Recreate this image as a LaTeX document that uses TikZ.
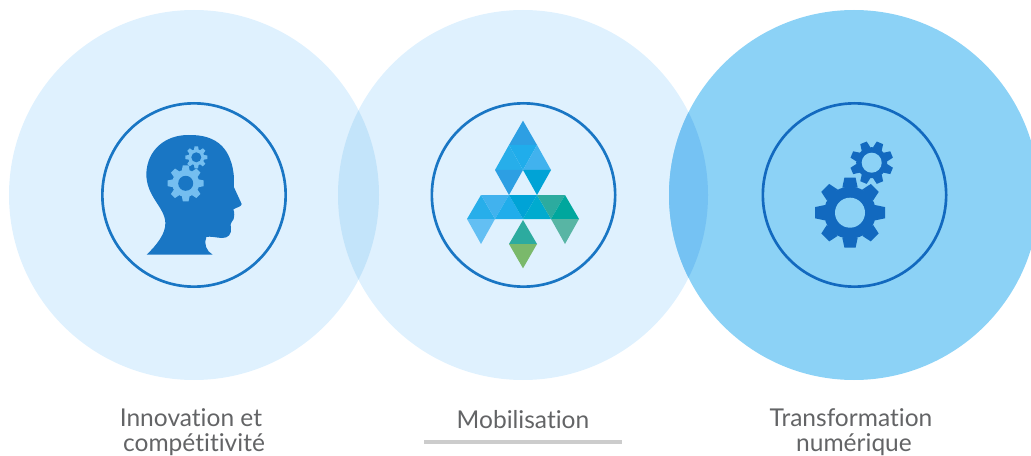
\documentclass[tikz,border=0pt]{standalone}
\usepackage{fontspec}
\setmainfont[Ligatures=NoCommon,Contextuals=NoAlternate]{Lato}
\definecolor{paleblue}{HTML}{DFF1FE}
\definecolor{lensblue}{HTML}{C3E4FA}
\definecolor{skyblue}{HTML}{8CD2F6}
\definecolor{lensdeep}{HTML}{75C2F3}
\definecolor{headblue}{HTML}{1976C4}
\definecolor{cogblue}{HTML}{74BEF0}
\definecolor{gearblue}{HTML}{1269BF}
\definecolor{labelgrey}{HTML}{636466}
\definecolor{rulegrey}{HTML}{CCCCCC}
\definecolor{triA}{HTML}{2D9FE3}
\definecolor{triB}{HTML}{20ADEB}
\definecolor{triC}{HTML}{27AEEA}
\definecolor{triD}{HTML}{41B2EE}
\definecolor{triE}{HTML}{00A3D6}
\definecolor{triF}{HTML}{00ABCF}
\definecolor{triG}{HTML}{2CAB9F}
\definecolor{triH}{HTML}{00A79D}
\definecolor{triI}{HTML}{63BFF3}
\definecolor{triJ}{HTML}{58B5A4}
\definecolor{triK}{HTML}{7AB96B}
% x, y, outer radius, body radius, hole radius, rotation, colour, hole colour
\newcommand{\gearcog}[8]{
\begin{scope}[shift={(#1,#2)},rotate=#6]
\fill[#7] (0,0) circle[radius=#4*.75pt];
\foreach \a in {0,45,...,315} {
\fill[#7,rotate=\a] (#4-1,-#3*.22) -- (#3,-#3*.16) -- (#3,#3*.16) -- (#4-1,#3*.22) -- cycle;
}
\fill[#8] (0,0) circle[radius=#5*.75pt];
\end{scope}
}
\begin{document}
\begin{tikzpicture}[x=.75pt,y=-.75pt,main circle/.style={circle,minimum size=277.5pt,inner sep=0pt,outer sep=0pt},ring node/.style={circle,draw,line width=2pt,minimum size=137.5pt,inner sep=0pt},label node/.style={text=labelgrey,font=\fontsize{18.4}{18.8}\selectfont,align=center,inner sep=0pt}]
\useasboundingbox (0,0) rectangle (1031,456);
\begin{scope}
\clip (0,0) rectangle (1031,456);
\node[main circle,fill=paleblue] (c1) at (194,195) {};
\node[main circle,fill=paleblue] (c2) at (523,195) {};
\begin{scope}
\clip (194,195) circle[radius=138.75pt];
\fill[lensblue] (523,195) circle[radius=138.75pt];
\end{scope}
\node[main circle,fill=skyblue] (c3) at (854,195) {};
\begin{scope}
\clip (523,195) circle[radius=138.75pt];
\fill[lensdeep] (854,195) circle[radius=138.75pt];
\end{scope}
\end{scope}
\node[ring node,draw=headblue] (r1) at (194,195) {};
\node[ring node,draw=headblue] (r2) at (523.5,195) {};
\node[ring node,draw=gearblue] (r3) at (854.5,195) {};
% head
\begin{scope}[shift={(90,90)},x=.25pt,y=-.25pt]
\fill[headblue] (170,494) .. controls (200,465) and (228,430) .. (226,398)
 .. controls (224,350) and (168,320) .. (169,250)
 .. controls (172,180) and (225,135) .. (295,135)
 .. controls (385,133) and (425,180) .. (432,262)
 .. controls (432,280) and (430,285) .. (432,292)
 -- (455,342) .. controls (455,350) and (440,352) .. (430,358)
 .. controls (435,370) and (432,380) .. (431,387)
 .. controls (428,395) and (418,400) .. (423,412)
 .. controls (426,432) and (415,445) .. (395,444)
 .. controls (380,443) and (360,438) .. (349,441)
 .. controls (340,460) and (350,485) .. (368,494) -- cycle;
\end{scope}
\gearcog{185.7}{183.3}{18}{13.5}{7.5}{0}{cogblue}{headblue}
\gearcog{196.3}{157.3}{11}{8}{5}{0}{cogblue}{headblue}
% triangles
\begin{scope}[shift={(450,110)},x=.25pt,y=-.25pt]
\fill[triA] (219,32) -- (177,105) -- (261,105) -- cycle;
\fill[triB] (177,105) -- (261,105) -- (219,180) -- cycle;
\fill[triC] (177,105) -- (135,180) -- (219,180) -- cycle;
\fill[triD] (261,105) -- (219,180) -- (303,180) -- cycle;
\fill[triA] (135,180) -- (219,180) -- (177,255) -- cycle;
\fill[triE] (219,180) -- (303,180) -- (261,255) -- cycle;
\fill[triC] (93,255) -- (51,327) -- (135,327) -- cycle;
\fill[triD] (93,255) -- (177,255) -- (135,327) -- cycle;
\fill[triB] (177,255) -- (135,327) -- (219,327) -- cycle;
\fill[triE] (177,255) -- (261,255) -- (219,327) -- cycle;
\fill[triF] (261,255) -- (219,327) -- (303,327) -- cycle;
\fill[triG] (261,255) -- (345,255) -- (303,327) -- cycle;
\fill[triH] (345,255) -- (303,327) -- (387,327) -- cycle;
\fill[triI] (51,327) -- (135,327) -- (93,402) -- cycle;
\fill[triJ] (303,327) -- (387,327) -- (345,402) -- cycle;
\fill[triG] (219,330) -- (177,402) -- (261,402) -- cycle;
\fill[triK] (177,402) -- (261,402) -- (219,475) -- cycle;
\end{scope}
% gears
\gearcog{850}{212.7}{35}{26}{15}{0}{gearblue}{skyblue}
\gearcog{871.7}{162.7}{21.5}{15.5}{10}{22.5}{gearblue}{skyblue}
% labels
\node[label node] (l1) at (191,432) {Innovation et\\\hspace*{4.5pt}compétitivité};
\node[label node] (l2) at (523,420) {Mobilisation};
\node[label node] (l3) at (851,432) {Transformation\\\hspace*{4.5pt}numérique};
\coordinate (ra) at (424,442);
\coordinate (rb) at (622,442);
\draw[rulegrey,line width=2.6pt] (ra) -- (rb);
\end{tikzpicture}
\end{document}
